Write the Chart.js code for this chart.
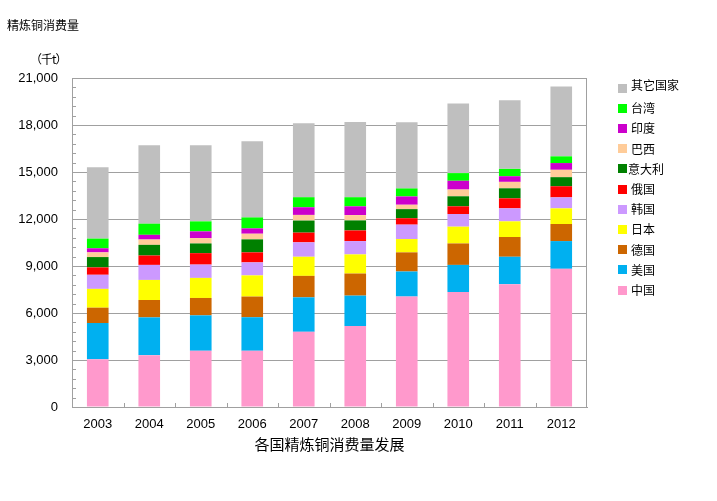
<!DOCTYPE html>
<html><head><meta charset="utf-8">
<script src="https://cdn.jsdelivr.net/npm/chart.js@4"></script>
<style>
html,body{margin:0;padding:0;background:#fff;}
#wrap{position:relative;width:717px;height:501px;overflow:hidden;}
#c{position:absolute;left:0;top:0;}
.t{position:absolute;font-family:"Noto Sans CJK SC","Noto Sans",sans-serif;color:#000;white-space:nowrap;line-height:12px;}
.sq{position:absolute;width:9px;height:9px;}
</style></head><body>
<div id="wrap">
<canvas id="c" width="717" height="501"></canvas>
<div class="t" style="left:7px;top:19px;font-size:12px;">精炼铜消费量</div>
<div class="t" style="left:30px;top:53px;font-size:12px;letter-spacing:-1px;">（千t）</div>
<div id="legend"></div>
</div>
<script>
const years = ['2003','2004','2005','2006','2007','2008','2009','2010','2011','2012'];
const seriesNames = ['中国','美国','德国','日本','韩国','俄国','意大利','巴西','印度','台湾','其它国家'];
const seriesColors = ['#FF99CC','#00B0F0','#CC6600','#FFFF00','#CC99FF','#FF0000','#008000','#FFCC99','#CC00CC','#00FF00','#BFBFBF'];
const china   = [3050,3310,3590,3590,4800,5170,7050,7340,7840,8820];
const usa     = [2310,2410,2260,2140,2200,1940,1600,1730,1750,1770];
const germany = [980,1110,1110,1320,1370,1410,1220,1370,1260,1090];
const japan   = [1200,1280,1280,1350,1220,1220,850,1070,1000,1000];
const korea   = [900,960,850,830,920,850,920,810,830,700];
const russia  = [470,600,730,640,620,680,410,490,640,710];
const italy   = [660,680,620,830,770,640,580,640,640,580];
const brazil  = [300,340,340,360,360,340,280,430,410,470];
const india   = [260,300,430,340,490,560,530,560,360,430];
const taiwan  = [620,710,640,700,640,580,510,490,470,430];
const others  = [4550,5000,4850,4870,4720,4800,4230,4440,4380,4460];
const yTickMin = 0, yTickMax = 21000, yTickStep = 3000, yMinorStep = 600;
const xAxisTitle = '各国精炼铜消费量发展';

const seriesValues = [china,usa,germany,japan,korea,russia,italy,brazil,india,taiwan,others];
const datasets = seriesNames.map((n,i)=>({
  label:n, data:seriesValues[i], backgroundColor:seriesColors[i],
  borderWidth:0, barPercentage:0.42, categoryPercentage:1.0
}));

const GRID = '#a0a0a0';
const extras = {
  id:'extras',
  afterDraw(chart){
    const {ctx, chartArea:a, scales:{x,y}} = chart;
    ctx.save();
    ctx.strokeStyle = GRID; ctx.lineWidth = 1;
    ctx.strokeRect(Math.round(a.left)+0.5, Math.round(a.top)+0.5, Math.round(a.right-a.left)-1, Math.round(a.bottom-a.top));
    ctx.beginPath();
    for(let v=yTickMin; v<=yTickMax; v+=yMinorStep){
      const py = Math.round(y.getPixelForValue(v))+0.5;
      ctx.moveTo(a.left, py); ctx.lineTo(a.left+4, py);
    }
    for(let i=0;i<years.length-1;i++){
      const px = Math.round((x.getPixelForValue(i)+x.getPixelForValue(i+1))/2)+0.5;
      ctx.moveTo(px, a.bottom); ctx.lineTo(px, a.bottom-4);
    }
    ctx.stroke();
    ctx.restore();
  }
};

const chart = new Chart(document.getElementById('c'), {
  type:'bar',
  data:{labels:years, datasets},
  options:{
    responsive:false, animation:false,
    layout:{padding:{top:78,right:130,bottom:0,left:12}},
    plugins:{legend:{display:false}, tooltip:{enabled:false}, title:{display:false}},
    scales:{
      x:{
        stacked:true,
        grid:{display:false, drawTicks:false},
        border:{color:GRID},
        ticks:{color:'#000', padding:10, font:{family:'"Liberation Sans", Arial, sans-serif', size:13}},
        title:{display:true, text:xAxisTitle, color:'#000', padding:{top:0,bottom:48},
               font:{family:'"Noto Sans CJK SC", sans-serif', size:15}},
        afterFit(s){ s.height = 94; }
      },
      y:{
        stacked:true, min:yTickMin, max:yTickMax,
        grid:{color:GRID, drawTicks:false},
        border:{color:GRID},
        ticks:{stepSize:yTickStep, color:'#000', padding:14,
               font:{family:'"Liberation Sans", Arial, sans-serif', size:13},
               callback:v=>Number(v).toLocaleString('en-US')},
        afterFit(s){ s.width = 60; }
      }
    }
  },
  plugins:[extras]
});

// legend built from the datasets (reverse order, as in the reference)
const lg = document.getElementById('legend');
const order = datasets.map((d,i)=>i).reverse();
order.forEach((idx,k)=>{
  const cy = 88 + k*20.2;
  const sq = document.createElement('div');
  sq.className='sq'; sq.style.left='618px'; sq.style.top=(cy-4.5)+'px';
  sq.style.background = datasets[idx].backgroundColor;
  const tx = document.createElement('div');
  tx.className='t'; tx.style.fontSize='12px';
  tx.style.left = (idx===6?'628px':'631px'); tx.style.top=(cy-6 - (k===0?3:0))+'px';
  tx.textContent = datasets[idx].label;
  lg.appendChild(sq); lg.appendChild(tx);
});
</script>
</body></html>
